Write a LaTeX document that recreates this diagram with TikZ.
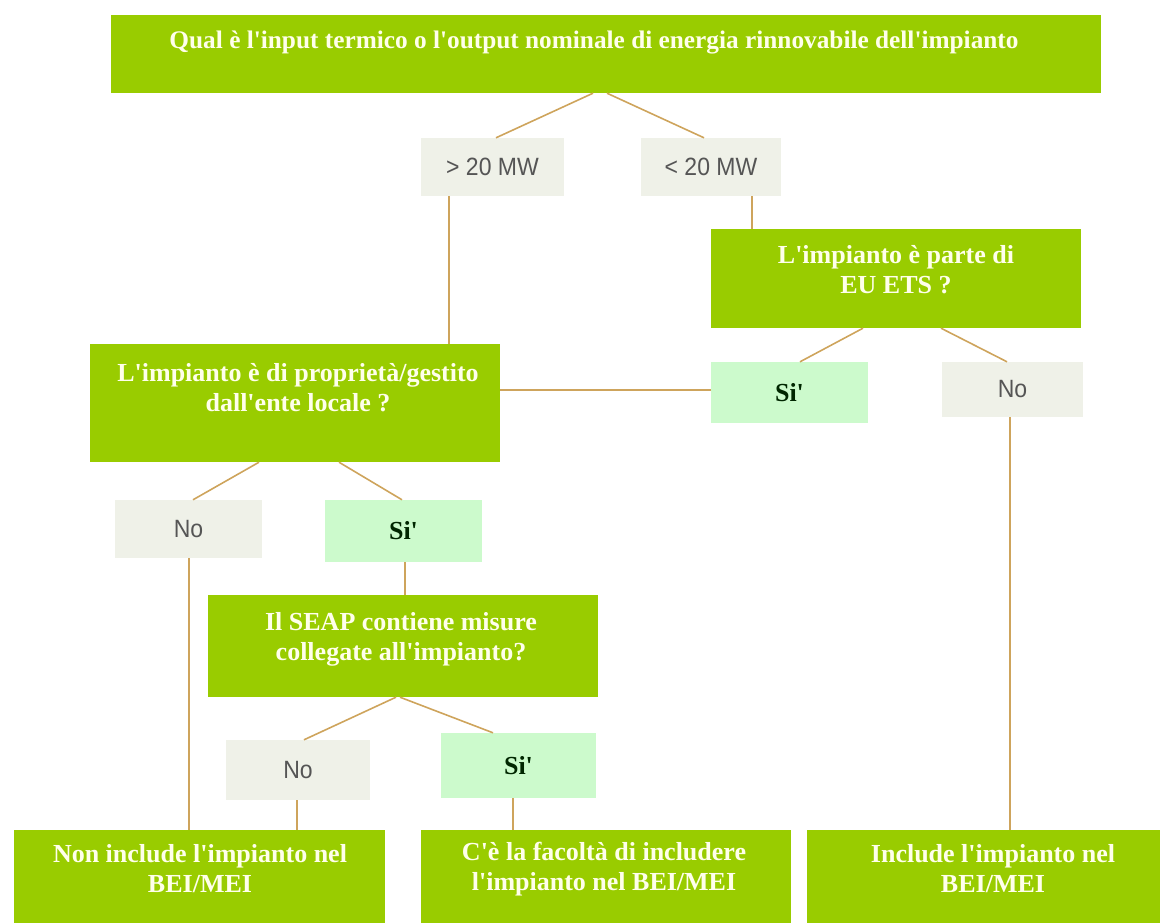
\documentclass[tikz,border=0pt]{standalone}
\usepackage{fontspec}
\usetikzlibrary{calc}
\newfontfamily\boxfont{Liberation Serif}
\newfontfamily\lblfont[FakeStretch=0.92]{Liberation Sans}
\definecolor{leaf}{RGB}{153,204,0}
\definecolor{paleg}{RGB}{239,241,232}
\definecolor{mint}{RGB}{204,250,204}
\definecolor{wire}{RGB}{206,164,92}
\definecolor{lbltxt}{RGB}{85,85,85}
\definecolor{wtxt}{RGB}{255,255,235}
\tikzset{
  gbox/.style={fill=leaf, draw=none, inner sep=0pt, rectangle},
  greybox/.style={fill=paleg, draw=none, inner sep=0pt, rectangle, font=\lblfont\fontsize{25}{28}\selectfont, text=lbltxt},
  mintbox/.style={fill=mint, draw=none, inner sep=0pt, rectangle, font=\boxfont\bfseries\fontsize{26}{28}\selectfont, text=black!85!green},
  wtext/.style={text=wtxt, font=\boxfont\bfseries\fontsize{26}{30}\selectfont, inner sep=0pt, align=center},
  conn/.style={draw=wire, line width=1.6pt},
}
\begin{document}
\begin{tikzpicture}[x=1pt, y=-1pt]
\useasboundingbox (0,0) rectangle (1162,923);
% boxes
\node[gbox, minimum width=990, minimum height=78] (top) at (606,54) {};
\node[wtext, font=\boxfont\bfseries\fontsize{25.3}{30}\selectfont] (toptext) at (594,43) {Qual è l'input termico o l'output nominale di energia rinnovabile dell'impianto};

\node[greybox, minimum width=143, minimum height=58] (gt) at (492.5,167) {> 20 MW};
\node[greybox, minimum width=140, minimum height=58] (lt) at (711,167) {< 20 MW};

\node[gbox, minimum width=370, minimum height=99] (ets) at (896,278.5) {};
\node[wtext] (etstext) at (896,270) {L'impianto è parte di\\EU ETS ?};

\node[gbox, minimum width=410, minimum height=118] (prop) at (295,403) {};
\node[wtext] (proptext) at (298,388) {L'impianto è di proprietà/gestito\\dall'ente locale ?};

\node[mintbox, minimum width=157, minimum height=61] (si1) at (789.5,392.5) {Si'};
\node[greybox, minimum width=141, minimum height=55] (no1) at (1012.5,389.5) {No};

\node[greybox, minimum width=147, minimum height=58] (no2) at (188.5,529) {No};
\node[mintbox, minimum width=157, minimum height=62] (si2) at (403.5,531) {Si'};

\node[gbox, minimum width=390, minimum height=102] (seap) at (403,646) {};
\node[wtext] (seaptext) at (401,639) {Il SEAP contiene misure\\collegate all'impianto?};

\node[greybox, minimum width=144, minimum height=60] (no3) at (298,770) {No};
\node[mintbox, minimum width=155, minimum height=65] (si3) at (518.5,765.5) {Si'};

\node[gbox, minimum width=371, minimum height=93] (f1) at (199.5,876.5) {};
\node[wtext] (f1text) at (200,869) {Non include l'impianto nel\\BEI/MEI};
\node[gbox, minimum width=370, minimum height=93] (f2) at (606,876.5) {};
\node[wtext] (f2text) at (604,869) {C'è la facoltà di includere\\l'impianto nel BEI/MEI};
\node[gbox, minimum width=353, minimum height=93] (f3) at (983.5,876.5) {};
\node[wtext] (f3text) at (993,869) {Include l'impianto nel\\BEI/MEI};

% connectors
\draw[conn] ($(top.south)+(-13,0)$) -- ($(gt.north)+(3.5,0)$);
\draw[conn] ($(top.south)+(1,0)$) -- ($(lt.north)+(-7,0)$);
\draw[conn] ($(gt.south)+(-43.5,0)$) -- ($(prop.north)+(154,0)$);
\draw[conn] ($(lt.south)+(41,0)$) -- ($(ets.north)+(-144,0)$);
\draw[conn] ($(ets.south)+(-33,0)$) -- ($(si1.north)+(10.5,0)$);
\draw[conn] ($(ets.south)+(45,0)$) -- ($(no1.north)+(-5.5,0)$);
\draw[conn] ($(prop.east)+(0,-13)$) -- ($(si1.west)+(0,-2.5)$);
\draw[conn] ($(no1.south)+(-2.5,0)$) -- ($(f3.north)+(26.5,0)$);
\draw[conn] ($(prop.south)+(-36,0)$) -- ($(no2.north)+(4.5,0)$);
\draw[conn] ($(prop.south)+(44,0)$) -- ($(si2.north)+(-1.5,0)$);
\draw[conn] ($(no2.south)+(0.5,0)$) -- ($(f1.north)+(-10.5,0)$);
\draw[conn] ($(si2.south)+(1.5,0)$) -- ($(seap.north)+(2,0)$);
\draw[conn] ($(seap.south)+(-7,0)$) -- ($(no3.north)+(6,0)$);
\draw[conn] ($(seap.south)+(-3,0)$) -- ($(si3.north)+(-25.5,0)$);
\draw[conn] ($(no3.south)+(-1,0)$) -- ($(f1.north)+(97.5,0)$);
\draw[conn] ($(si3.south)+(-5.5,0)$) -- ($(f2.north)+(-93,0)$);
\end{tikzpicture}
\end{document}
